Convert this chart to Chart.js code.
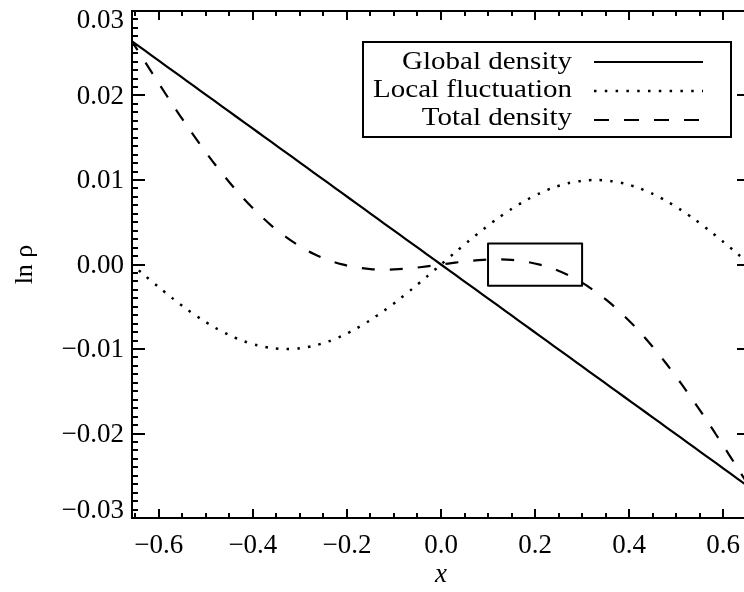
<!DOCTYPE html>
<html>
<head>
<meta charset="utf-8">
<script src="https://cdn.jsdelivr.net/npm/chart.js@4.4.1/dist/chart.umd.min.js"></script>
<style>
  html, body { margin: 0; padding: 0; background: #fff; overflow: hidden; }
  #wrap { width: 800px; height: 592px; }
</style>
</head>
<body>
<div id="wrap"><canvas id="c" width="800" height="592"></canvas></div>
<script>
// Sample positions along x
const xs = [-0.66,-0.63,-0.60,-0.57,-0.54,-0.51,-0.48,-0.45,-0.42,-0.39,-0.36,-0.33,-0.30,-0.27,-0.24,-0.21,-0.18,-0.15,-0.12,-0.09,-0.06,-0.03,
            0,
            0.03,0.06,0.09,0.12,0.15,0.18,0.21,0.24,0.27,0.30,0.33,0.36,0.39,0.42,0.45,0.48,0.51,0.54,0.57,0.60,0.63,0.66];

// ln rho of the three profiles
const globalDensity = [0.02653,0.02533,0.02412,0.02291,0.02171,0.02050,0.01930,0.01809,0.01688,0.01568,0.01447,0.01327,0.01206,0.01085,0.00965,0.00844,0.00724,0.00603,0.00482,0.00362,0.00241,0.00121,
                       0,
                       -0.00121,-0.00241,-0.00362,-0.00482,-0.00603,-0.00724,-0.00844,-0.00965,-0.01085,-0.01206,-0.01327,-0.01447,-0.01568,-0.01688,-0.01809,-0.01930,-0.02050,-0.02171,-0.02291,-0.02412,-0.02533,-0.02653];
const localFluctuation = [0.00014,-0.00129,-0.00269,-0.00404,-0.00531,-0.00646,-0.00749,-0.00836,-0.00906,-0.00957,-0.00989,-0.01000,-0.00991,-0.00961,-0.00912,-0.00843,-0.00758,-0.00657,-0.00543,-0.00417,-0.00283,-0.00143,
                          0,
                          0.00143,0.00283,0.00417,0.00543,0.00657,0.00758,0.00843,0.00912,0.00961,0.00991,0.01000,0.00989,0.00957,0.00906,0.00836,0.00749,0.00646,0.00531,0.00404,0.00269,0.00129,-0.00014];
const totalDensity = [0.02667,0.02404,0.02143,0.01887,0.01640,0.01404,0.01181,0.00973,0.00782,0.00611,0.00458,0.00327,0.00215,0.00124,0.00053,0.00001,-0.00034,-0.00054,-0.00061,-0.00055,-0.00042,-0.00022,
                      0,
                      0.00022,0.00042,0.00055,0.00061,0.00054,0.00034,-0.00001,-0.00053,-0.00124,-0.00215,-0.00327,-0.00458,-0.00611,-0.00782,-0.00973,-0.01181,-0.01404,-0.01640,-0.01887,-0.02143,-0.02404,-0.02667];

// Highlighted window (closed outline)
const boxX = [0.1, 0.3, 0.3, 0.1, 0.1];
const boxY = [-0.0025, -0.0025, 0.0025, 0.0025, -0.0025];

const seriesNames = ['Global density', 'Local fluctuation', 'Total density'];

const xTickValues = [-0.6, -0.4, -0.2, 0, 0.2, 0.4, 0.6];
const xTickLabels = ['\u22120.6', '\u22120.4', '\u22120.2', '0.0', '0.2', '0.4', '0.6'];
const yTickValues = [-0.03, -0.02, -0.01, 0, 0.01, 0.02, 0.03];
const yTickLabels = ['\u22120.03', '\u22120.02', '\u22120.01', '0.00', '0.01', '0.02', '0.03'];

const SERIF = "'Liberation Serif', 'DejaVu Serif', serif";
const lineWidths = [2.2, 2.5, 2.2];
const dashStyles = [[], [2.5, 8.2], [13, 15]];
const legendDash = [[], [2.5, 8.3], [15, 15]];

const toPoints = (xv, yv) => xv.map((x, i) => ({ x: x, y: yv[i] }));

// Boxed frame with inward major/minor ticks on all four sides
const frameAxes = {
  id: 'frameAxes',
  afterDatasetsDraw(chart) {
    const { ctx, chartArea: a, scales: { x, y } } = chart;
    ctx.save();
    ctx.strokeStyle = '#000';
    ctx.lineWidth = 2;
    ctx.strokeRect(a.left, a.top, a.right - a.left, a.bottom - a.top);
    ctx.beginPath();
    for (let k = -13; k <= 13; k++) {
      const v = k * 0.05;
      if (v < x.min || v > x.max) continue;
      const px = Math.round(x.getPixelForValue(v));
      const len = (k % 4 === 0) ? 9 : 5;
      ctx.moveTo(px, a.bottom); ctx.lineTo(px, a.bottom - len);
      ctx.moveTo(px, a.top); ctx.lineTo(px, a.top + len);
    }
    for (let k = -30; k <= 30; k++) {
      const v = k * 0.001;
      const py = Math.round(y.getPixelForValue(v));
      const len = (k % 10 === 0) ? 13 : 6;
      ctx.moveTo(a.left, py); ctx.lineTo(a.left + len, py);
      ctx.moveTo(a.right, py); ctx.lineTo(a.right - len, py);
    }
    ctx.stroke();
    ctx.restore();
  }
};

// Boxed legend: names right-aligned, line sample to the right
const boxedLegend = {
  id: 'boxedLegend',
  afterDraw(chart) {
    const ctx = chart.ctx;
    const L = { left: 363, top: 42, width: 368, height: 95, textRight: 572, lineStart: 594, lineEnd: 703 };
    const baselines = [69, 97, 125];
    const lineYs = [62, 91, 120];
    ctx.save();
    ctx.fillStyle = '#fff';
    ctx.fillRect(L.left, L.top, L.width, L.height);
    ctx.strokeStyle = '#000';
    ctx.lineWidth = 2;
    ctx.strokeRect(L.left, L.top, L.width, L.height);
    chart.data.datasets.slice(0, 3).forEach((ds, i) => {
      ctx.save();
      ctx.translate(L.textRight, baselines[i]);
      ctx.scale(1.16, 1);
      ctx.font = '25px ' + SERIF;
      ctx.fillStyle = '#000';
      ctx.textAlign = 'right';
      ctx.textBaseline = 'alphabetic';
      ctx.fillText(ds.label, 0, 0);
      ctx.restore();
      ctx.beginPath();
      ctx.setLineDash(legendDash[i]);
      ctx.lineWidth = lineWidths[i];
      ctx.moveTo(L.lineStart, lineYs[i]);
      ctx.lineTo(L.lineEnd, lineYs[i]);
      ctx.stroke();
    });
    ctx.restore();
  }
};

Chart.defaults.font.family = SERIF;
Chart.defaults.color = '#000';

const makeLine = (label, data, i) => ({
  label: label,
  data: data,
  borderColor: '#000',
  borderWidth: lineWidths[i],
  borderDash: dashStyles[i],
  pointRadius: 0,
  tension: 0.3,
  fill: false
});

new Chart(document.getElementById('c'), {
  type: 'line',
  data: {
    datasets: [
      makeLine(seriesNames[0], toPoints(xs, globalDensity), 0),
      makeLine(seriesNames[1], toPoints(xs, localFluctuation), 1),
      makeLine(seriesNames[2], toPoints(xs, totalDensity), 2),
      {
        label: 'window',
        data: toPoints(boxX, boxY),
        borderColor: '#000',
        borderWidth: 2,
        borderJoinStyle: 'round',
        pointRadius: 0,
        tension: 0,
        fill: false
      }
    ]
  },
  options: {
    responsive: false,
    animation: false,
    devicePixelRatio: 1,
    layout: { padding: { top: 11, right: 50, left: 0, bottom: 0 } },
    plugins: { legend: { display: false }, tooltip: { enabled: false } },
    scales: {
      x: {
        type: 'linear',
        min: -0.657,
        max: 0.657,
        grid: { display: false, drawTicks: false },
        border: { display: false },
        afterBuildTicks: axis => { axis.ticks = xTickValues.map(v => ({ value: v })); },
        afterFit: axis => { axis.height = 74; axis.paddingLeft = 0; axis.paddingRight = 0; },
        ticks: {
          padding: 12,
          maxRotation: 0,
          autoSkip: false,
          font: { size: 27, family: SERIF },
          callback: (v, i) => xTickLabels[i]
        },
        title: {
          display: true,
          text: 'x',
          font: { size: 27, style: 'italic', family: SERIF },
          padding: { top: 0, bottom: 1 }
        }
      },
      y: {
        type: 'linear',
        min: -0.03,
        max: 0.03,
        grid: { display: false, drawTicks: false },
        border: { display: false },
        afterBuildTicks: axis => { axis.ticks = yTickValues.map(v => ({ value: v })); },
        afterFit: axis => { axis.width = 132; axis.paddingTop = 0; axis.paddingBottom = 0; },
        ticks: {
          padding: 8,
          autoSkip: false,
          labelOffset: 1,
          font: { size: 27, family: SERIF, lineHeight: 0.63 },
          // end labels are nudged inside the frame
          callback: (v, i) => {
            const t = yTickLabels[i];
            if (i === 0) return [t, ''];
            if (i === yTickLabels.length - 1) return ['', t];
            return t;
          }
        },
        title: {
          display: true,
          text: 'ln \u03c1',
          font: { size: 26, family: SERIF },
          padding: { top: 10, bottom: 0 }
        }
      }
    }
  },
  plugins: [frameAxes, boxedLegend]
});
</script>
</body>
</html>
